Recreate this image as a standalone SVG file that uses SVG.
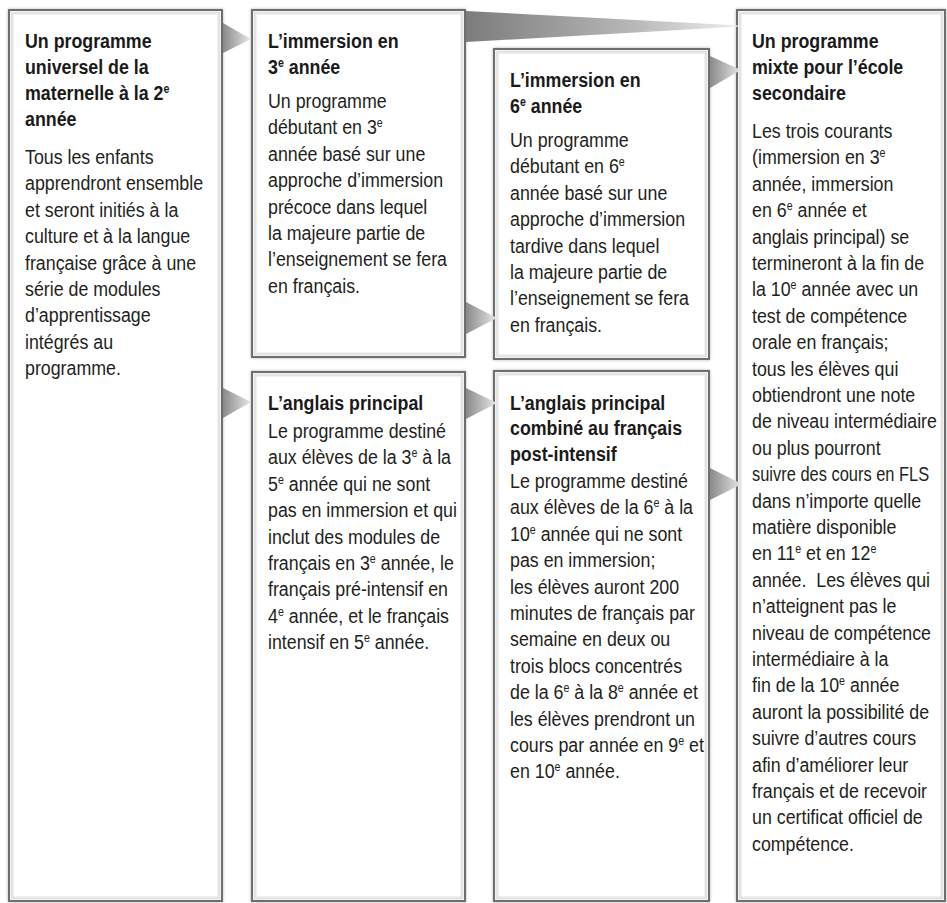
<svg xmlns="http://www.w3.org/2000/svg" width="947" height="903" viewBox="0 0 947 903">
<style>
.box{fill:#ffffff;stroke:#6e6e6e;stroke-width:2}
.inner{fill:none;stroke:#e4e4e4;stroke-width:3}
.t{font-family:"Liberation Sans",Arial,sans-serif;font-size:20px;font-weight:bold;fill:#1a1a1a}
.b{font-family:"Liberation Sans",Arial,sans-serif;font-size:20px;fill:#231f20}
.s{font-size:12px}
.arr{stroke:none}
</style>
<defs>
<linearGradient id="ga" x1="0" y1="0" x2="1" y2="0">
<stop offset="0" stop-color="#8a8a8a"/>
<stop offset="1" stop-color="#e8e8e8"/>
</linearGradient>
<linearGradient id="gw" x1="0" y1="0" x2="1" y2="0">
<stop offset="0" stop-color="#7c7c7c"/>
<stop offset="0.6" stop-color="#b8b8b8"/>
<stop offset="1" stop-color="#f4f4f4"/>
</linearGradient>
<filter id="sh" x="-5%" y="-5%" width="110%" height="110%">
<feDropShadow dx="0" dy="0" stdDeviation="1.5" flood-color="#000" flood-opacity="0.3"/>
</filter>
</defs>

<g id="n1">
<rect class="box" x="9" y="10" width="213" height="891" filter="url(#sh)"/>
<rect class="inner" x="12" y="13" width="207" height="885"/>
<g transform="translate(25,0) scale(0.89,1)">
<text class="t" x="0" y="48">Un programme</text>
<text class="t" x="0" y="74">universel de la</text>
<text class="t" x="0" y="100">maternelle à la 2<tspan class="s" dy="-7">e</tspan></text>
<text class="t" x="0" y="126">année</text>
<text class="b" x="0" y="164">Tous les enfants</text>
<text class="b" x="0" y="190.4">apprendront ensemble</text>
<text class="b" x="0" y="216.8">et seront initiés à la</text>
<text class="b" x="0" y="243.2">culture et à la langue</text>
<text class="b" x="0" y="269.6">française grâce à une</text>
<text class="b" x="0" y="296">série de modules</text>
<text class="b" x="0" y="322.4">d’apprentissage</text>
<text class="b" x="0" y="348.8">intégrés au</text>
<text class="b" x="0" y="375.2">programme.</text>
</g>
</g>

<g id="n2">
<rect class="box" x="252" y="10" width="213" height="347" filter="url(#sh)"/>
<rect class="inner" x="255" y="13" width="207" height="341"/>
<g transform="translate(268,0) scale(0.89,1)">
<text class="t" x="0" y="48">L’immersion en</text>
<text class="t" x="0" y="74">3<tspan class="s" dy="-7">e</tspan><tspan dy="7"> année</tspan></text>
<text class="b" x="0" y="108">Un programme</text>
<text class="b" x="0" y="134.4">débutant en 3<tspan class="s" dy="-7">e</tspan></text>
<text class="b" x="0" y="160.8">année basé sur une</text>
<text class="b" x="0" y="187.2">approche d’immersion</text>
<text class="b" x="0" y="213.6">précoce dans lequel</text>
<text class="b" x="0" y="240">la majeure partie de</text>
<text class="b" x="0" y="266.4">l’enseignement se fera</text>
<text class="b" x="0" y="292.8">en français.</text>
</g>
</g>

<g id="n3">
<rect class="box" x="494" y="49" width="215" height="310" filter="url(#sh)"/>
<rect class="inner" x="497" y="52" width="209" height="304"/>
<g transform="translate(510,0) scale(0.89,1)">
<text class="t" x="0" y="87">L’immersion en</text>
<text class="t" x="0" y="113">6<tspan class="s" dy="-7">e</tspan><tspan dy="7"> année</tspan></text>
<text class="b" x="0" y="147">Un programme</text>
<text class="b" x="0" y="173.4">débutant en 6<tspan class="s" dy="-7">e</tspan></text>
<text class="b" x="0" y="199.8">année basé sur une</text>
<text class="b" x="0" y="226.2">approche d’immersion</text>
<text class="b" x="0" y="252.6">tardive dans lequel</text>
<text class="b" x="0" y="279">la majeure partie de</text>
<text class="b" x="0" y="305.4">l’enseignement se fera</text>
<text class="b" x="0" y="331.8">en français.</text>
</g>
</g>

<g id="n4">
<rect class="box" x="252" y="372" width="213" height="529" filter="url(#sh)"/>
<rect class="inner" x="255" y="375" width="207" height="523"/>
<g transform="translate(268,0) scale(0.89,1)">
<text class="t" x="0" y="410">L’anglais principal</text>
<text class="b" x="0" y="438">Le programme destiné</text>
<text class="b" x="0" y="464.4">aux élèves de la 3<tspan class="s" dy="-7">e</tspan><tspan dy="7"> à la</tspan></text>
<text class="b" x="0" y="490.8">5<tspan class="s" dy="-7">e</tspan><tspan dy="7"> année qui ne sont</tspan></text>
<text class="b" x="0" y="517.2">pas en immersion et qui</text>
<text class="b" x="0" y="543.6">inclut des modules de</text>
<text class="b" x="0" y="570">français en 3<tspan class="s" dy="-7">e</tspan><tspan dy="7"> année, le</tspan></text>
<text class="b" x="0" y="596.4">français pré-intensif en</text>
<text class="b" x="0" y="622.8">4<tspan class="s" dy="-7">e</tspan><tspan dy="7"> année, et le français</tspan></text>
<text class="b" x="0" y="649.2">intensif en 5<tspan class="s" dy="-7">e</tspan><tspan dy="7"> année.</tspan></text>
</g>
</g>

<g id="n5">
<rect class="box" x="494" y="371" width="215" height="530" filter="url(#sh)"/>
<rect class="inner" x="497" y="374" width="209" height="524"/>
<g transform="translate(510,0) scale(0.89,1)">
<text class="t" x="0" y="410">L’anglais principal</text>
<text class="t" x="0" y="435.5">combiné au français</text>
<text class="t" x="0" y="461">post-intensif</text>
<text class="b" x="0" y="488">Le programme destiné</text>
<text class="b" x="0" y="514.4">aux élèves de la 6<tspan class="s" dy="-7">e</tspan><tspan dy="7"> à la</tspan></text>
<text class="b" x="0" y="540.8">10<tspan class="s" dy="-7">e</tspan><tspan dy="7"> année qui ne sont</tspan></text>
<text class="b" x="0" y="567.2">pas en immersion;</text>
<text class="b" x="0" y="593.6">les élèves auront 200</text>
<text class="b" x="0" y="620">minutes de français par</text>
<text class="b" x="0" y="646.4">semaine en deux ou</text>
<text class="b" x="0" y="672.8">trois blocs concentrés</text>
<text class="b" x="0" y="699.2">de la 6<tspan class="s" dy="-7">e</tspan><tspan dy="7"> à la 8</tspan><tspan class="s" dy="-7">e</tspan><tspan dy="7"> année et</tspan></text>
<text class="b" x="0" y="725.6">les élèves prendront un</text>
<text class="b" x="0" y="752">cours par année en 9<tspan class="s" dy="-7">e</tspan><tspan dy="7"> et</tspan></text>
<text class="b" x="0" y="778.4">en 10<tspan class="s" dy="-7">e</tspan><tspan dy="7"> année.</tspan></text>
</g>
</g>

<g id="n6">
<rect class="box" x="737" y="10" width="208" height="891" filter="url(#sh)"/>
<rect class="inner" x="740" y="13" width="202" height="885"/>
<g transform="translate(752,0) scale(0.89,1)">
<text class="t" x="0" y="48">Un programme</text>
<text class="t" x="0" y="74">mixte pour l’école</text>
<text class="t" x="0" y="100">secondaire</text>
<text class="b" x="0" y="138">Les trois courants</text>
<text class="b" x="0" y="164.4">(immersion en 3<tspan class="s" dy="-7">e</tspan></text>
<text class="b" x="0" y="190.8">année, immersion</text>
<text class="b" x="0" y="217.2">en 6<tspan class="s" dy="-7">e</tspan><tspan dy="7"> année et</tspan></text>
<text class="b" x="0" y="243.6">anglais principal) se</text>
<text class="b" x="0" y="270">termineront à la fin de</text>
<text class="b" x="0" y="296.4">la 10<tspan class="s" dy="-7">e</tspan><tspan dy="7"> année avec un</tspan></text>
<text class="b" x="0" y="322.8">test de compétence</text>
<text class="b" x="0" y="349.2">orale en français;</text>
<text class="b" x="0" y="375.6">tous les élèves qui</text>
<text class="b" x="0" y="402">obtiendront une note</text>
<text class="b" x="0" y="428.4">de niveau intermédiaire</text>
<text class="b" x="0" y="454.8">ou plus pourront</text>
<text class="b" x="0" y="481.2" textLength="199" lengthAdjust="spacingAndGlyphs">suivre des cours en FLS</text>
<text class="b" x="0" y="507.6">dans n’importe quelle</text>
<text class="b" x="0" y="534">matière disponible</text>
<text class="b" x="0" y="560.4">en 11<tspan class="s" dy="-7">e</tspan><tspan dy="7"> et en 12</tspan><tspan class="s" dy="-7">e</tspan></text>
<text class="b" x="0" y="586.8" xml:space="preserve">année.  Les élèves qui</text>
<text class="b" x="0" y="613.2">n’atteignent pas le</text>
<text class="b" x="0" y="639.6">niveau de compétence</text>
<text class="b" x="0" y="666">intermédiaire à la</text>
<text class="b" x="0" y="692.4">fin de la 10<tspan class="s" dy="-7">e</tspan><tspan dy="7"> année</tspan></text>
<text class="b" x="0" y="718.8">auront la possibilité de</text>
<text class="b" x="0" y="745.2">suivre d’autres cours</text>
<text class="b" x="0" y="771.6">afin d’améliorer leur</text>
<text class="b" x="0" y="798">français et de recevoir</text>
<text class="b" x="0" y="824.4">un certificat officiel de</text>
<text class="b" x="0" y="850.8">compétence.</text>
</g>
</g>

<g id="connectors">
<polygon class="arr" fill="url(#ga)" points="223,23 223,53 251,39"/>
<polygon class="arr" fill="url(#ga)" points="223,388 223,418 251,402"/>
<polygon class="arr" fill="url(#gw)" points="466,11 466,42 749,26"/>
<polygon class="arr" fill="url(#ga)" points="466,302 466,334 497,318"/>
<polygon class="arr" fill="url(#ga)" points="466,388 466,419 497,403"/>
<polygon class="arr" fill="url(#ga)" points="710,56 710,88 741,70"/>
<polygon class="arr" fill="url(#ga)" points="710,468 710,500 742,484"/>
</g>
</svg>
